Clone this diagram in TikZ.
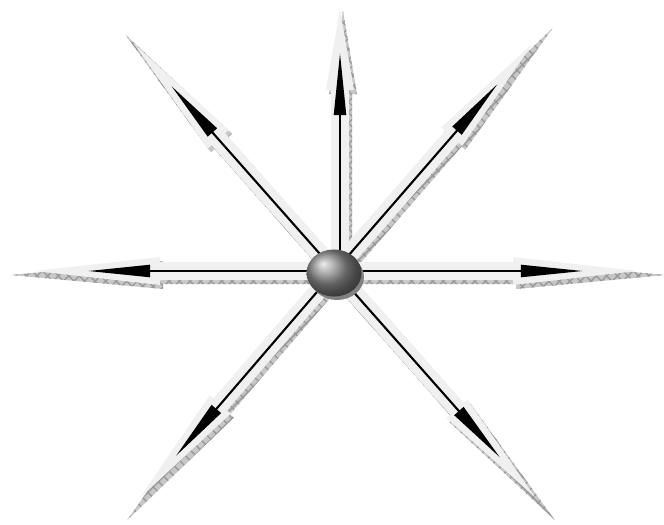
\documentclass[tikz,border=0pt]{standalone}
\usetikzlibrary{shapes,positioning,calc,patterns,shapes.geometric,arrows.meta}

\begin{document}
\begin{tikzpicture}[
    x=0.01cm, y=0.01cm,
    face/.style={fill=black!6},
    rim/.style={preaction={fill=black!22}, pattern=crosshatch, pattern color=black!40},
    needle/.style={line width=0.6pt, -{Triangle[length=0.62cm, width=0.12cm]}},
    hubball/.style={ellipse, minimum width=0.55cm, minimum height=0.47cm, inner sep=0pt, shading=ball, ball color=black!45}
]
    \useasboundingbox (-335,-253) rectangle (329,271);
    \coordinate (hub) at (0,0);

    % --- shadow bands of the broad arrows ---
    \foreach \ang/\dx/\len/\hb/\ext in {0/0/302/178/25, 49/0/302/178/25, 90/5/262/181/2, 131.5/0/303/176/18, 180/0/300/175/27, -130.7/0/299/176/25, -48.5/0/302/184/25}{
        \begin{scope}[shift={(3+\dx,-4)}, rotate=\ang]
            \path[rim] (0,-9) -- (\hb,-9) -- (\hb,-14) -- (\len+\ext,0) -- (\hb,14) -- (\hb,9) -- (0,9) -- cycle;
        \end{scope}
    }

    % --- light faces ---
    \foreach \ang/\dx/\len/\hb in {0/0/302/178, 49/0/302/178, 90/5/262/181, 131.5/0/303/176, 180/0/300/175, -130.7/0/299/176, -48.5/0/302/184}{
        \begin{scope}[shift={(\dx,0)}, rotate=\ang]
            \path[face] (0,-9) -- (\hb,-9) -- (\hb,-14) -- (\len,0) -- (\hb,14) -- (\hb,9) -- (0,9) -- cycle;
        \end{scope}
    }

    % --- black needles ---
    \foreach \ang/\bt/\n in {0/248/e, 49/248/ne, 131.5/247/nw, 180/247/w, -130.7/244/sw, -48.5/249/se}{
        \coordinate (end\n) at (\ang:\bt);
        \draw[needle] (hub) -- (end\n);
    }
    \coordinate (startn) at (5,0);
    \coordinate (endn) at (5,218);
    \draw[needle] (startn) -- (endn);

    % --- centre ball ---
    \fill[black!50] ([shift={(2,-6)}]hub) ellipse (27 and 23);
    \node[hubball] (ball) at ([shift={(-1,-2)}]hub) {};
\end{tikzpicture}
\end{document}
